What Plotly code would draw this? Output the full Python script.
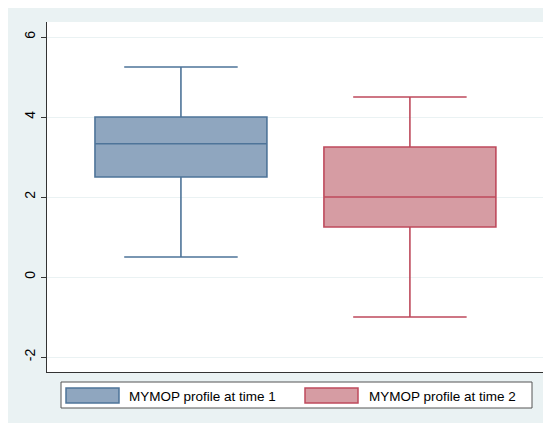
import plotly.graph_objects as go

# Data (summary statistics)
series_names = ["MYMOP profile at time 1", "MYMOP profile at time 2"]
positions = [1, 2]
lower_whisker = [0.5, -1.0]
q1_values = [2.5, 1.25]
medians = [3.33, 2.0]
q3_values = [4.0, 3.25]
upper_whisker = [5.25, 4.5]
y_ticks = [-2, 0, 2, 4, 6]

fills = ["#8FA6BF", "#D69CA3"]
lines = ["#4E7499", "#BE4A5C"]

OFF = 8  # page body margin
W, H = 543, 415
L, R, T, B = 39, 6, 14, 51
pw, ph = W - L - R, H - T - B

def px(x):
    return (x - OFF - L) / pw

def py(y):
    return (H - B - (y - OFF)) / ph

fig = go.Figure()
for i in range(2):
    fig.add_trace(go.Box(
        x=[positions[i]],
        q1=[q1_values[i]], median=[medians[i]], q3=[q3_values[i]],
        lowerfence=[lower_whisker[i]], upperfence=[upper_whisker[i]],
        name=series_names[i],
        width=0.751, whiskerwidth=0.66,
        fillcolor=fills[i],
        line=dict(color=lines[i], width=1.6),
        boxpoints=False, showlegend=False,
        hoverinfo="y",
    ))

shapes = [
    # legend frame
    dict(type="rect", xref="paper", yref="paper",
         x0=px(61), x1=px(532), y0=py(408), y1=py(382),
         fillcolor="white", line=dict(color="#555555", width=1)),
]
swatch_x = [(66, 119), (305, 358)]
text_x = [127, 367]
annotations = []
for i in range(2):
    shapes.append(dict(type="rect", xref="paper", yref="paper",
                       x0=px(swatch_x[i][0]), x1=px(swatch_x[i][1]),
                       y0=py(403), y1=py(388),
                       fillcolor=fills[i], line=dict(color=lines[i], width=1.5)))
    annotations.append(dict(xref="paper", yref="paper", x=px(text_x[i]), y=py(396),
                            text=series_names[i], showarrow=False,
                            xanchor="left", yanchor="middle",
                            font=dict(size=13.5, color="black")))

fig.update_layout(
    width=W, height=H,
    margin=dict(l=L, r=R, t=T, b=B, pad=0),
    paper_bgcolor="#EAF2F3", plot_bgcolor="white",
    font=dict(family="Liberation Sans, Arial, sans-serif", size=13, color="black"),
    showlegend=False,
    shapes=shapes, annotations=annotations,
    xaxis=dict(range=[0.415, 2.59], showticklabels=False, ticks="",
               showgrid=False, zeroline=False, showline=True, automargin=False,
               linecolor="#333333", linewidth=1, fixedrange=True),
    yaxis=dict(range=[-2.375, 6.375], tickvals=y_ticks,
               ticktext=[str(v) for v in y_ticks], tickangle=-90,
               ticks="outside", ticklen=5, tickcolor="#333333", automargin=False,
               showgrid=True, gridcolor="#EAF2F3", gridwidth=1,
               zeroline=False, showline=True, linecolor="#333333", linewidth=1,
               tickfont=dict(size=14)),
)

fig.write_html("out.html")
